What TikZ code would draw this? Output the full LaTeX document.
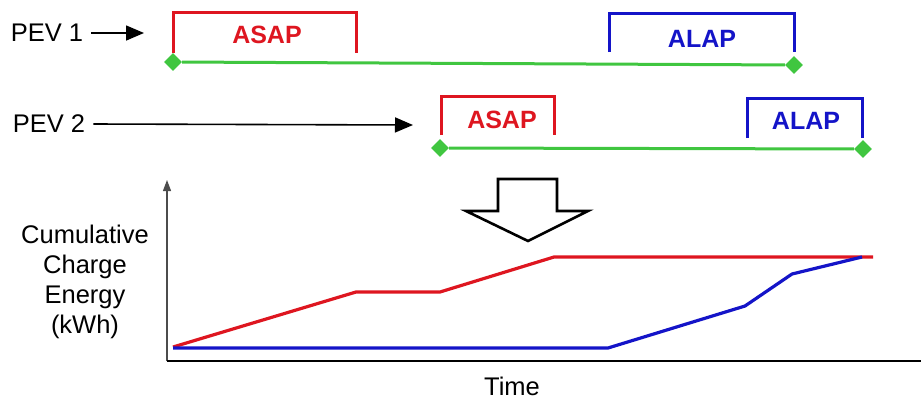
\documentclass[tikz,border=0pt]{standalone}
\usepackage{fontspec}
\setmainfont{Liberation Sans}
\usetikzlibrary{shapes.geometric,arrows.meta}
\definecolor{asapred}{RGB}{222,22,32}
\definecolor{alapblue}{RGB}{20,20,200}
\definecolor{wingreen}{RGB}{64,198,64}

\begin{document}
\begin{tikzpicture}[x=1pt,y=-1pt,
  txt/.style={font=\fontsize{25.5}{30}\selectfont,inner sep=2pt},
  tag/.style={font=\fontsize{25}{30}\selectfont\bfseries,inner sep=0pt},
  bracket/.style={line width=3pt},
  window/.style={wingreen,line width=3pt},
  tipmark/.style={diamond,fill=wingreen,inner sep=0pt,minimum size=18pt},
  pointer/.style={line width=1.6pt,-{Triangle[length=18pt,width=15pt]}},
  curve/.style={line width=3.2pt,line join=round}]
\useasboundingbox (0,0) rectangle (922,400);

% first vehicle: ASAP / ALAP windows over its plug-in interval
\node[txt] (pev1) at (47,33) {PEV 1};
\coordinate (pev1end) at (144,33);
\draw[pointer] (pev1.east) ++(6,0) -- (pev1end);
\draw[bracket,asapred] (173,53) -- (173,12) -- (356,12) -- (356,53);
\node[tag,asapred] (asap1) at (267,35) {ASAP};
\draw[bracket,alapblue] (609,52) -- (609,13) -- (794,13) -- (794,52);
\node[tag,alapblue] (alap1) at (702,39) {ALAP};
\node[tipmark] (arr1) at (173,62) {};
\node[tipmark] (dep1) at (794,65) {};
\draw[window] (arr1) -- (dep1);

% second vehicle
\node[txt] (pev2) at (49,124) {PEV 2};
\coordinate (pev2end) at (413,125);
\draw[pointer] (pev2.east) ++(6,0) -- (pev2end);
\draw[bracket,asapred] (441,135) -- (441,96) -- (554,96) -- (554,135);
\node[tag,asapred] (asap2) at (502,120) {ASAP};
\draw[bracket,alapblue] (747,138) -- (747,98) -- (862,98) -- (862,138);
\node[tag,alapblue] (alap2) at (806,121) {ALAP};
\node[tipmark] (arr2) at (440,148) {};
\node[tipmark] (dep2) at (863,149) {};
\draw[window] (arr2) -- (dep2);

% hollow block arrow
\draw[line width=2.6pt,line join=miter] (498,179) -- (557,179) -- (557,211) -- (588,211)
  -- (528,241) -- (466,211) -- (498,211) -- cycle;

% axes
\coordinate (origin) at (167,361);
\coordinate (ytop) at (167,180);
\coordinate (xend) at (921,361);
\draw[line width=1.2pt,black!70,-{Triangle[length=11pt,width=8pt]}] (origin) -- (ytop);
\draw[line width=1.2pt] (origin) -- (xend);
\node[txt,align=center] (ylab) at (85,282) {Cumulative\\Charge\\Energy\\(kWh)};
\node[txt] (xlab) at (512,386) {Time};

% cumulative energy, ASAP and ALAP
\draw[curve,asapred] (173,347) -- (356,292) -- (440,292) -- (554,257) -- (873,257);
\draw[curve,alapblue] (173,348) -- (608,348) -- (745,306) -- (792,274) -- (862,257);
\end{tikzpicture}
\end{document}
